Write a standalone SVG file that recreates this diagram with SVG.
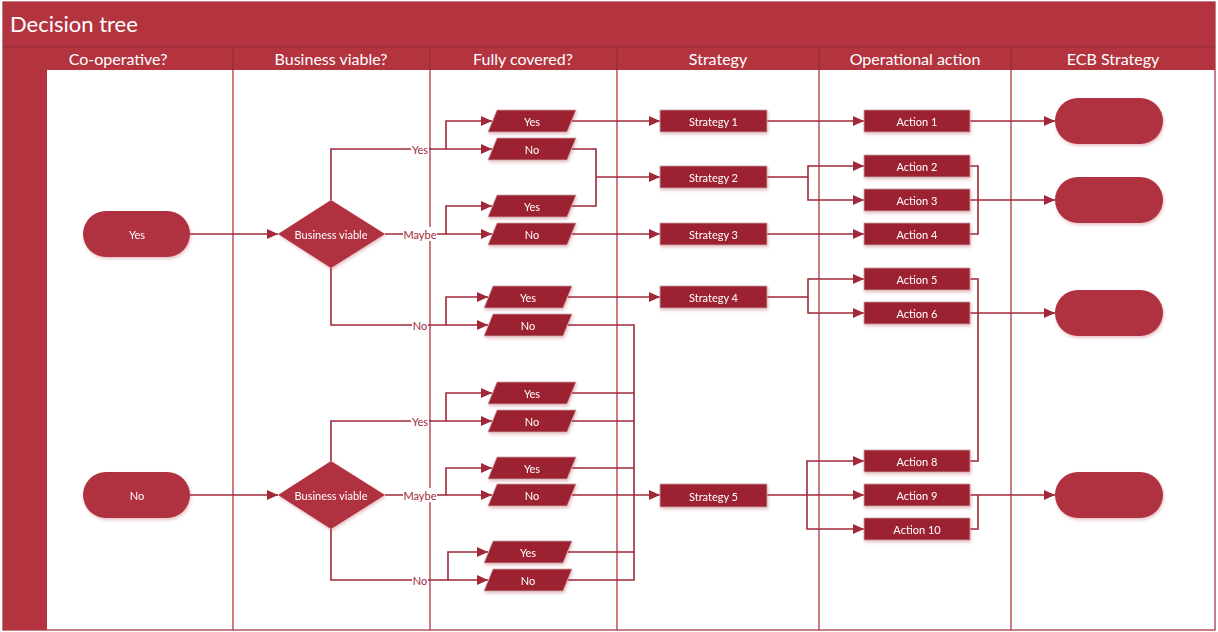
<svg xmlns="http://www.w3.org/2000/svg" width="1218" height="632" viewBox="0 0 1218 632">
<style>
.hdr{fill:#B3343F}
.hdrline{stroke:#93293A;stroke-width:1}
.title{font-family:Lato,"Liberation Sans",sans-serif;font-size:22px;fill:#fff}
.colt{font-family:Lato,"Liberation Sans",sans-serif;font-size:16px;fill:#fff;text-anchor:middle}
.div{stroke:#B3343F;stroke-width:1.3}
.term{fill:#B0323F}
.box{fill:#9C2433;stroke:#c9a3a8;stroke-width:0.8}
.dia{fill:#B0323F}
.nt{font-family:Lato,"Liberation Sans",sans-serif;font-size:11px;fill:#fff;text-anchor:middle;dominant-baseline:central}
.lbl{font-family:Lato,"Liberation Sans",sans-serif;font-size:11px;fill:#A02838;text-anchor:middle;dominant-baseline:central}
.c{fill:none;stroke:#A02838;stroke-width:1.6}
.a{marker-end:url(#arr)}
</style>
<defs>
<marker id="arr" markerUnits="userSpaceOnUse" markerWidth="12" markerHeight="10" refX="11" refY="5" orient="auto">
<path d="M0,0 L11,5 L0,10 z" fill="#A02838"/>
</marker>
<filter id="sh" x="-20%" y="-30%" width="140%" height="170%">
<feDropShadow dx="1" dy="2" stdDeviation="1.5" flood-color="#B3343F" flood-opacity="0.3"/>
</filter>
</defs>
<rect x="0" y="0" width="1218" height="632" fill="#fff"/>
<g id="frame">
<rect x="3" y="2" width="1212" height="628" fill="#fff" stroke="#9A2A37" stroke-width="1.2"/>
<rect class="hdr" x="3" y="2" width="1212" height="68"/>
<line class="hdrline" x1="3" y1="47" x2="1215" y2="47"/>
<rect class="hdr" x="3" y="70" width="44" height="560"/>
<text class="title" x="10" y="32">Decision tree</text>
<line class="div" x1="233" y1="47" x2="233" y2="630"/>
<line class="div" x1="430" y1="47" x2="430" y2="630"/>
<line class="div" x1="617" y1="47" x2="617" y2="630"/>
<line class="div" x1="819" y1="47" x2="819" y2="630"/>
<line class="div" x1="1011" y1="47" x2="1011" y2="630"/>
<g stroke="#93293A" stroke-width="1">
<line x1="233" y1="47" x2="233" y2="70"/><line x1="430" y1="47" x2="430" y2="70"/><line x1="617" y1="47" x2="617" y2="70"/><line x1="819" y1="47" x2="819" y2="70"/><line x1="1011" y1="47" x2="1011" y2="70"/>
</g>
<text class="colt" x="118" y="65">Co-operative?</text>
<text class="colt" x="331" y="65">Business viable?</text>
<text class="colt" x="523" y="65">Fully covered?</text>
<text class="colt" x="718" y="65">Strategy</text>
<text class="colt" x="915" y="65">Operational action</text>
<text class="colt" x="1113" y="65">ECB Strategy</text>
</g>
<g id="connectors">
<path class="c a" d="M190,234 H278"/>
<path class="c a" d="M190,495 H278"/>
<path class="c a" d="M331,200 V149 H446 V121 H492"/>
<path class="c a" d="M446,149 H492"/>
<path class="c a" d="M385,234 H446 V206 H492"/>
<path class="c a" d="M446,234 H492"/>
<path class="c a" d="M331,268 V325 H446 V297 H488"/>
<path class="c a" d="M446,325 H488"/>
<path class="c a" d="M331,461 V421 H446 V393 H492"/>
<path class="c a" d="M446,421 H492"/>
<path class="c a" d="M385,495 H446 V468 H492"/>
<path class="c a" d="M446,495 H492"/>
<path class="c a" d="M331,529 V580 H448 V552 H488"/>
<path class="c a" d="M448,580 H488"/>
<path class="c a" d="M572,121 H660"/>
<path class="c" d="M572,149 H596 V206 H572"/>
<path class="c a" d="M596,177 H660"/>
<path class="c a" d="M572,234 H660"/>
<path class="c a" d="M568,297 H660"/>
<path class="c" d="M568,325 H634 V580 H568"/>
<path class="c" d="M572,393 H634 M572,421 H634 M572,468 H634 M568,552 H634"/>
<path class="c a" d="M572,495 H660"/>
<path class="c a" d="M767,121 H864"/>
<path class="c a" d="M767,177 H808 V166 H864"/>
<path class="c a" d="M808,177 V200 H864"/>
<path class="c a" d="M767,234 H864"/>
<path class="c a" d="M767,297 H808 V279 H864"/>
<path class="c a" d="M808,297 V313 H864"/>
<path class="c a" d="M767,495 H864"/>
<path class="c a" d="M807,495 V461 H864"/>
<path class="c a" d="M807,495 V529 H864"/>
<path class="c a" d="M970,121 H1055"/>
<path class="c" d="M970,166 H978 V234 H970"/>
<path class="c a" d="M970,200 H1055"/>
<path class="c" d="M970,279 H978 V461 H970"/>
<path class="c a" d="M970,313 H1055"/>
<path class="c a" d="M970,495 H1055"/>
<path class="c" d="M970,529 H978 V495"/>
<g id="edge-labels">
<rect x="411" y="142" width="18" height="14" fill="#fff"/><text class="lbl" x="420" y="149">Yes</text>
<rect x="403" y="227" width="34" height="14" fill="#fff"/><text class="lbl" x="420" y="234">Maybe</text>
<rect x="412" y="318" width="16" height="14" fill="#fff"/><text class="lbl" x="420" y="325">No</text>
<rect x="411" y="414" width="18" height="14" fill="#fff"/><text class="lbl" x="420" y="421">Yes</text>
<rect x="403" y="488" width="34" height="14" fill="#fff"/><text class="lbl" x="420" y="495">Maybe</text>
<rect x="412" y="573" width="16" height="14" fill="#fff"/><text class="lbl" x="420" y="580">No</text>
</g>
</g>
<g id="n-coop-yes" filter="url(#sh)"><rect class="term" x="83" y="211" width="107" height="46" rx="23"/><text class="nt" x="137" y="234">Yes</text></g>
<g id="n-coop-no" filter="url(#sh)"><rect class="term" x="83" y="472" width="107" height="46" rx="23"/><text class="nt" x="137" y="495">No</text></g>
<g id="n-bv1" filter="url(#sh)"><polygon class="dia" points="331,200 385,234 331,268 278,234"/><text class="nt" x="331" y="234">Business viable</text></g>
<g id="n-bv2" filter="url(#sh)"><polygon class="dia" points="331,461 385,495 331,529 278,495"/><text class="nt" x="331" y="495">Business viable</text></g>
<g id="n-fc1" filter="url(#sh)"><polygon class="box" points="488,132 497,110 576,110 567,132"/><text class="nt" x="532" y="121">Yes</text></g>
<g id="n-fc2" filter="url(#sh)"><polygon class="box" points="488,160 497,138 576,138 567,160"/><text class="nt" x="532" y="149">No</text></g>
<g id="n-fc3" filter="url(#sh)"><polygon class="box" points="488,217 497,195 576,195 567,217"/><text class="nt" x="532" y="206">Yes</text></g>
<g id="n-fc4" filter="url(#sh)"><polygon class="box" points="488,245 497,223 576,223 567,245"/><text class="nt" x="532" y="234">No</text></g>
<g id="n-fc5" filter="url(#sh)"><polygon class="box" points="484,308 493,286 572,286 563,308"/><text class="nt" x="528" y="297">Yes</text></g>
<g id="n-fc6" filter="url(#sh)"><polygon class="box" points="484,336 493,314 572,314 563,336"/><text class="nt" x="528" y="325">No</text></g>
<g id="n-fc7" filter="url(#sh)"><polygon class="box" points="488,404 497,382 576,382 567,404"/><text class="nt" x="532" y="393">Yes</text></g>
<g id="n-fc8" filter="url(#sh)"><polygon class="box" points="488,432 497,410 576,410 567,432"/><text class="nt" x="532" y="421">No</text></g>
<g id="n-fc9" filter="url(#sh)"><polygon class="box" points="488,479 497,457 576,457 567,479"/><text class="nt" x="532" y="468">Yes</text></g>
<g id="n-fc10" filter="url(#sh)"><polygon class="box" points="488,506 497,484 576,484 567,506"/><text class="nt" x="532" y="495">No</text></g>
<g id="n-fc11" filter="url(#sh)"><polygon class="box" points="484,563 493,541 572,541 563,563"/><text class="nt" x="528" y="552">Yes</text></g>
<g id="n-fc12" filter="url(#sh)"><polygon class="box" points="484,591 493,569 572,569 563,591"/><text class="nt" x="528" y="580">No</text></g>
<g id="n-s1" filter="url(#sh)"><rect class="box" x="660" y="110" width="107" height="22"/><text class="nt" x="713.5" y="121">Strategy 1</text></g>
<g id="n-s2" filter="url(#sh)"><rect class="box" x="660" y="166" width="107" height="22"/><text class="nt" x="713.5" y="177">Strategy 2</text></g>
<g id="n-s3" filter="url(#sh)"><rect class="box" x="660" y="223" width="107" height="22"/><text class="nt" x="713.5" y="234">Strategy 3</text></g>
<g id="n-s4" filter="url(#sh)"><rect class="box" x="660" y="286" width="107" height="22"/><text class="nt" x="713.5" y="297">Strategy 4</text></g>
<g id="n-s5" filter="url(#sh)"><rect class="box" x="660" y="484" width="107" height="23"/><text class="nt" x="713.5" y="496">Strategy 5</text></g>
<g id="n-a1" filter="url(#sh)"><rect class="box" x="864" y="110" width="106" height="22"/><text class="nt" x="917" y="121">Action 1</text></g>
<g id="n-a2" filter="url(#sh)"><rect class="box" x="864" y="155" width="106" height="22"/><text class="nt" x="917" y="166">Action 2</text></g>
<g id="n-a3" filter="url(#sh)"><rect class="box" x="864" y="189" width="106" height="22"/><text class="nt" x="917" y="200">Action 3</text></g>
<g id="n-a4" filter="url(#sh)"><rect class="box" x="864" y="223" width="106" height="22"/><text class="nt" x="917" y="234">Action 4</text></g>
<g id="n-a5" filter="url(#sh)"><rect class="box" x="864" y="268" width="106" height="22"/><text class="nt" x="917" y="279">Action 5</text></g>
<g id="n-a6" filter="url(#sh)"><rect class="box" x="864" y="302" width="106" height="22"/><text class="nt" x="917" y="313">Action 6</text></g>
<g id="n-a8" filter="url(#sh)"><rect class="box" x="864" y="450" width="106" height="22"/><text class="nt" x="917" y="461">Action 8</text></g>
<g id="n-a9" filter="url(#sh)"><rect class="box" x="864" y="484" width="106" height="22"/><text class="nt" x="917" y="495">Action 9</text></g>
<g id="n-a10" filter="url(#sh)"><rect class="box" x="864" y="518" width="106" height="22"/><text class="nt" x="917" y="529">Action 10</text></g>
<g id="n-ecb1" filter="url(#sh)"><rect class="term" x="1055" y="98" width="108" height="46" rx="23"/></g>
<g id="n-ecb2" filter="url(#sh)"><rect class="term" x="1055" y="177" width="108" height="46" rx="23"/></g>
<g id="n-ecb3" filter="url(#sh)"><rect class="term" x="1055" y="290" width="108" height="46" rx="23"/></g>
<g id="n-ecb4" filter="url(#sh)"><rect class="term" x="1055" y="472" width="108" height="46" rx="23"/></g>
</svg>
